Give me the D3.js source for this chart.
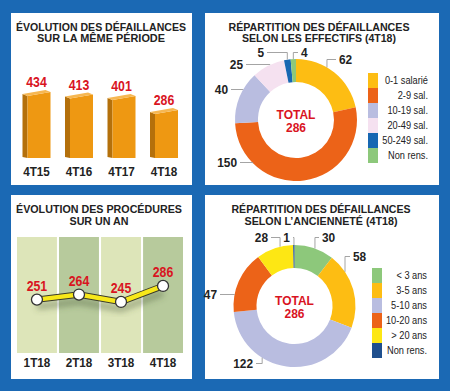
<!DOCTYPE html>
<html>
<head>
<meta charset="utf-8">
<script src="https://cdn.jsdelivr.net/npm/d3@7"></script>
<style>
  html, body { margin: 0; padding: 0; background: #1b69b4; }
  svg { display: block; font-family: "Liberation Sans Narrow", "Arial Narrow", "Liberation Sans", Arial, sans-serif; }
</style>
</head>
<body>
<svg id="chart" width="450" height="391"></svg>
<script>
// données
const barQuarters = ['4T15', '4T16', '4T17', '4T18'];
const barValues = [434, 413, 401, 286];

const lineQuarters = ['1T18', '2T18', '3T18', '4T18'];
const lineValues = [251, 264, 245, 286];

const effectifLabels = ['0-1 salarié', '2-9 sal.', '10-19 sal.', '20-49 sal.', '50-249 sal.', 'Non rens.'];
const effectifValues = [62, 150, 40, 25, 5, 4];

const ancienneteLabels = ['< 3 ans', '3-5 ans', '5-10 ans', '10-20 ans', '> 20 ans', 'Non rens.'];
const ancienneteValues = [30, 58, 122, 47, 28, 1];

const total = 286;

// couleurs
const effectifColors = ['#fdbd13', '#ec6318', '#b9bde0', '#f5e1f0', '#1767b2', '#8dc87b'];
const ancienneteColors = ['#8dc87b', '#fdbd13', '#b9bde0', '#ec6318', '#fde714', '#1f4f8e'];
const RED = '#d9141f';
const INK = '#222';

// position des étiquettes à flèche (angle sur l'anneau, position du texte)
const effectifCallouts = [
  { a: 30.5, x: 339, y: 64, anchor: 'start' },
  { a: 225, x: 237, y: 167, anchor: 'end' },
  { a: 299.5, x: 228, y: 94, anchor: 'end' },
  { a: 334.7, x: 243, y: 69, anchor: 'end' },
  { a: 351.8, x: 264, y: 57, anchor: 'end' },
  { a: 357.5, x: 301, y: 57, anchor: 'start' },
];
const ancienneteCallouts = [
  { a: 19.6, x: 322, y: 242, anchor: 'start' },
  { a: 55.9, x: 353, y: 261, anchor: 'start' },
  { a: 212, x: 253, y: 368, anchor: 'end' },
  { a: 280.4, x: 217, y: 299, anchor: 'end' },
  { a: 346.3, x: 268, y: 242, anchor: 'end' },
  { a: 359.5, x: 290, y: 242, anchor: 'end' },
];

const svg = d3.select('#chart');

svg.append('rect').attr('width', 450).attr('height', 391).attr('fill', '#1b69b4');

const panels = [
  [11, 13, 181, 172],
  [205, 13, 234, 172],
  [11, 195, 181, 184],
  [205, 195, 234, 184],
];
svg
  .selectAll('rect.panel')
  .data(panels)
  .join('rect')
  .attr('class', 'panel')
  .attr('x', (d) => d[0])
  .attr('y', (d) => d[1])
  .attr('width', (d) => d[2])
  .attr('height', (d) => d[3])
  .attr('fill', '#fff');

const defs = svg.append('defs');
defs
  .append('filter')
  .attr('id', 'blur')
  .attr('x', '-20%')
  .attr('y', '-50%')
  .attr('width', '140%')
  .attr('height', '200%')
  .append('feGaussianBlur')
  .attr('stdDeviation', 3);

// texte resserré (la police étroite de l'original n'existe pas ici)
function narrow(sel, k) {
  sel.attr('transform', function () {
    const x = +this.getAttribute('x');
    return `translate(${x * (1 - k)},0) scale(${k},1)`;
  });
}

function title(lines, cx, y0, widths) {
  svg
    .append('g')
    .selectAll('text')
    .data(lines)
    .join('text')
    .attr('x', cx)
    .attr('y', (d, i) => y0 + i * 11.8)
    .attr('text-anchor', 'middle')
    .attr('font-size', 11.5)
    .attr('font-weight', 'bold')
    .attr('fill', INK)
    .attr('textLength', (d, i) => widths[i])
    .attr('lengthAdjust', 'spacingAndGlyphs')
    .text((d) => d);
}

function barChart() {
  const g = svg.append('g');
  const x = d3.scalePoint().domain(barQuarters).range([36.5, 164]);
  // échelle sans zéro, comme sur l'original
  const y = d3.scaleLinear().domain([-90, 450]).range([158, 92]);
  const base = y(-90);
  const half = 14;
  const dx = 5;
  const data = barQuarters.map((q, i) => ({ q, v: barValues[i] }));

  const bars = g.selectAll('g.bar').data(data).join('g').attr('class', 'bar');
  bars.each((d, i, nodes) => {
    const sel = d3.select(nodes[i]);
    const x1 = x(d.q) - half + dx;
    const x2 = x(d.q) + half;
    const top = y(d.v);
    const pts = (arr) => arr.map((p) => p.join(',')).join(' ');
    sel
      .append('polygon')
      .attr('points', pts([[x1 - dx, top], [x1, top + 2], [x1, base], [x1 - dx, base - 1]]))
      .attr('fill', '#b4700b');
    sel
      .append('polygon')
      .attr('points', pts([[x1, top + 2], [x2, top - 2], [x2, base], [x1, base]]))
      .attr('fill', '#ee9812');
    sel
      .append('polygon')
      .attr('points', pts([[x1 - dx, top], [x1, top + 2], [x2, top - 2], [x2 - dx, top - 4]]))
      .attr('fill', '#f6b752');
  });

  g.selectAll('text.val')
    .data(data)
    .join('text')
    .attr('class', 'val')
    .attr('x', (d) => x(d.q))
    .attr('y', (d) => y(d.v) - 7)
    .attr('text-anchor', 'middle')
    .attr('font-size', 14.5)
    .attr('font-weight', 'bold')
    .attr('fill', RED)
    .text((d) => d.v)
    .call(narrow, 0.85);

  g.selectAll('text.cat')
    .data(barQuarters)
    .join('text')
    .attr('class', 'cat')
    .attr('x', (d) => x(d))
    .attr('y', 176.5)
    .attr('text-anchor', 'middle')
    .attr('font-size', 13)
    .attr('font-weight', 'bold')
    .attr('fill', INK)
    .text((d) => d)
    .call(narrow, 0.9);
}

function lineChart() {
  const g = svg.append('g');
  const x = d3.scaleBand().domain(lineQuarters).range([17, 183]).paddingInner(0.05);
  const y = d3.scaleLinear().domain([200, 300]).range([319.5, 280.5]);
  const cx = (q) => x(q) + x.bandwidth() / 2;
  const data = lineQuarters.map((q, i) => ({ q, v: lineValues[i] }));

  g.selectAll('rect.col')
    .data(lineQuarters)
    .join('rect')
    .attr('class', 'col')
    .attr('x', (d) => x(d))
    .attr('y', 237)
    .attr('width', x.bandwidth())
    .attr('height', 116)
    .attr('fill', (d, i) => (i % 2 ? '#b7ca9c' : '#dde5b9'));

  const line = d3
    .line()
    .x((d) => cx(d.q))
    .y((d) => y(d.v));

  g.append('path')
    .datum(data)
    .attr('d', line)
    .attr('transform', 'translate(0,7)')
    .attr('fill', 'none')
    .attr('stroke', '#4a5a3a')
    .attr('stroke-opacity', 0.45)
    .attr('stroke-width', 6)
    .attr('filter', 'url(#blur)');
  g.append('path')
    .datum(data)
    .attr('d', line)
    .attr('fill', 'none')
    .attr('stroke', '#3a3a2a')
    .attr('stroke-width', 6.5);
  g.append('path')
    .datum(data)
    .attr('d', line)
    .attr('fill', 'none')
    .attr('stroke', '#f7e81a')
    .attr('stroke-width', 4.5);

  g.selectAll('circle')
    .data(data)
    .join('circle')
    .attr('cx', (d) => cx(d.q))
    .attr('cy', (d) => y(d.v))
    .attr('r', 5.5)
    .attr('fill', '#fff')
    .attr('stroke', '#333')
    .attr('stroke-width', 1.3);

  g.selectAll('text.val')
    .data(data)
    .join('text')
    .attr('class', 'val')
    .attr('x', (d) => cx(d.q))
    .attr('y', (d) => y(d.v) - 9)
    .attr('text-anchor', 'middle')
    .attr('font-size', 14.5)
    .attr('font-weight', 'bold')
    .attr('fill', RED)
    .text((d) => d.v)
    .call(narrow, 0.85);

  g.selectAll('text.cat')
    .data(lineQuarters)
    .join('text')
    .attr('class', 'cat')
    .attr('x', (d) => cx(d))
    .attr('y', 367.5)
    .attr('text-anchor', 'middle')
    .attr('font-size', 13)
    .attr('font-weight', 'bold')
    .attr('fill', INK)
    .text((d) => d)
    .call(narrow, 0.9);
}

function donut({ values, labels, colors, callouts, cx, cy, legendX, legendSw, legendTextX, legendY }) {
  const g = svg.append('g');
  const outer = 61;
  const inner = 38;
  const pie = d3.pie().sort(null).value((d) => d);
  const arc = d3.arc().innerRadius(inner).outerRadius(outer);

  g.append('g')
    .attr('transform', `translate(${cx},${cy})`)
    .selectAll('path')
    .data(pie(values))
    .join('path')
    .attr('d', arc)
    .attr('fill', (d, i) => colors[i]);

  // étiquettes et traits de rappel
  const lab = g.append('g');
  values.forEach((v, i) => {
    const c = callouts[i];
    const rad = (c.a * Math.PI) / 180;
    const px = cx + outer * Math.sin(rad);
    const py = cy - outer * Math.cos(rad);
    const ly = c.y - 4.5;
    const ex = c.anchor === 'start' ? c.x - 3 : c.x + 3;
    lab
      .append('path')
      .attr('d', `M${px},${py}L${px},${ly}L${ex},${ly}`)
      .attr('fill', 'none')
      .attr('stroke', '#9a9a9a')
      .attr('stroke-width', 0.9);
    lab
      .append('text')
      .attr('x', c.x)
      .attr('y', c.y)
      .attr('text-anchor', c.anchor)
      .attr('font-size', 13.5)
      .attr('font-weight', 'bold')
      .attr('fill', INK)
      .text(v)
      .call(narrow, 0.88);
  });

  g.append('text')
    .attr('x', cx)
    .attr('y', cy - 1.5)
    .attr('text-anchor', 'middle')
    .attr('font-size', 12)
    .attr('font-weight', 'bold')
    .attr('fill', RED)
    .text('TOTAL');
  g.append('text')
    .attr('x', cx)
    .attr('y', cy + 11.5)
    .attr('text-anchor', 'middle')
    .attr('font-size', 12)
    .attr('font-weight', 'bold')
    .attr('fill', RED)
    .text(total);

  // légende
  const leg = g.append('g');
  leg
    .selectAll('rect')
    .data(labels)
    .join('rect')
    .attr('x', legendX)
    .attr('y', (d, i) => legendY + i * 15)
    .attr('width', legendSw)
    .attr('height', 15)
    .attr('fill', (d, i) => colors[i]);
  leg
    .selectAll('text')
    .data(labels)
    .join('text')
    .attr('x', legendTextX)
    .attr('y', (d, i) => legendY + i * 15 + 11)
    .attr('text-anchor', 'end')
    .attr('font-size', 10.5)
    .attr('fill', INK)
    .text((d) => d)
    .call(narrow, 0.88);
}

title(['ÉVOLUTION DES DÉFAILLANCES', 'SUR LA MÊME PÉRIODE'], 101, 30.5, [170, 128]);
title(['RÉPARTITION DES DÉFAILLANCES', 'SELON LES EFFECTIFS (4T18)'], 319, 30.5, [181, 154]);
title(['ÉVOLUTION DES PROCÉDURES', 'SUR UN AN'], 99, 213, [166, 59]);
title(['RÉPARTITION DES DÉFAILLANCES', 'SELON L’ANCIENNETÉ (4T18)'], 321, 213, [179, 153]);

barChart();
lineChart();
donut({
  values: effectifValues,
  labels: effectifLabels,
  colors: effectifColors,
  callouts: effectifCallouts,
  cx: 296,
  cy: 120,
  legendX: 368,
  legendSw: 10,
  legendTextX: 428,
  legendY: 73,
});
donut({
  values: ancienneteValues,
  labels: ancienneteLabels,
  colors: ancienneteColors,
  callouts: ancienneteCallouts,
  cx: 294.5,
  cy: 306,
  legendX: 372,
  legendSw: 10,
  legendTextX: 427,
  legendY: 268,
});
</script>
</body>
</html>
